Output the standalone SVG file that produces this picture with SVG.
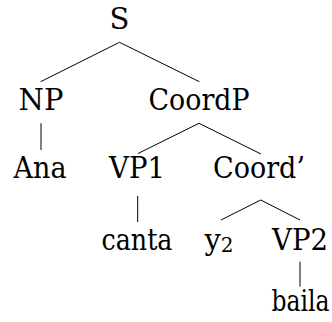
<svg xmlns="http://www.w3.org/2000/svg" width="332" height="322" viewBox="0 0 332 322">
<style>
text{font-family:"DejaVu Serif","Times New Roman",Times,"Liberation Serif",serif;font-size:29px;fill:#000;text-anchor:middle}
.e{fill:none;stroke:#000;stroke-width:1}
</style>
<rect width="332" height="322" fill="#fff"/>
<g id="connectors">
<path class="e" d="M40.7,81.7 L119.5,42.3 L199.3,81.7"/>
<path class="e" d="M41,123.3 V150"/>
<path class="e" d="M138,153.5 L199,123.3 L261,154"/>
<path class="e" d="M137.7,196 V222"/>
<path class="e" d="M221,220 L260.7,200 L300,220"/>
<path class="e" d="M300,261.7 V286.7"/>
</g>
<g id="S"><text x="119.5" y="29">S</text></g>
<g id="NP"><text x="41" y="109.5">NP</text></g>
<g id="CoordP"><text x="199" y="109.5" textLength="101" lengthAdjust="spacingAndGlyphs">CoordP</text></g>
<g id="Ana"><text x="40" y="178" textLength="53" lengthAdjust="spacingAndGlyphs">Ana</text></g>
<g id="VP1"><text x="137" y="178" textLength="56" lengthAdjust="spacingAndGlyphs">VP1</text></g>
<g id="Coordbar"><text x="259" y="178" textLength="92" lengthAdjust="spacingAndGlyphs">Coord’</text></g>
<g id="canta"><text x="137" y="250" textLength="71" lengthAdjust="spacingAndGlyphs">canta</text></g>
<g id="y2"><text x="219" y="250">y<tspan font-size="20" dy="2">2</tspan></text></g>
<g id="VP2"><text x="300" y="250" textLength="56" lengthAdjust="spacingAndGlyphs">VP2</text></g>
<g id="baila"><text x="0" y="0" transform="translate(300.5,311) scale(0.81,1)">baila</text></g>
</svg>
